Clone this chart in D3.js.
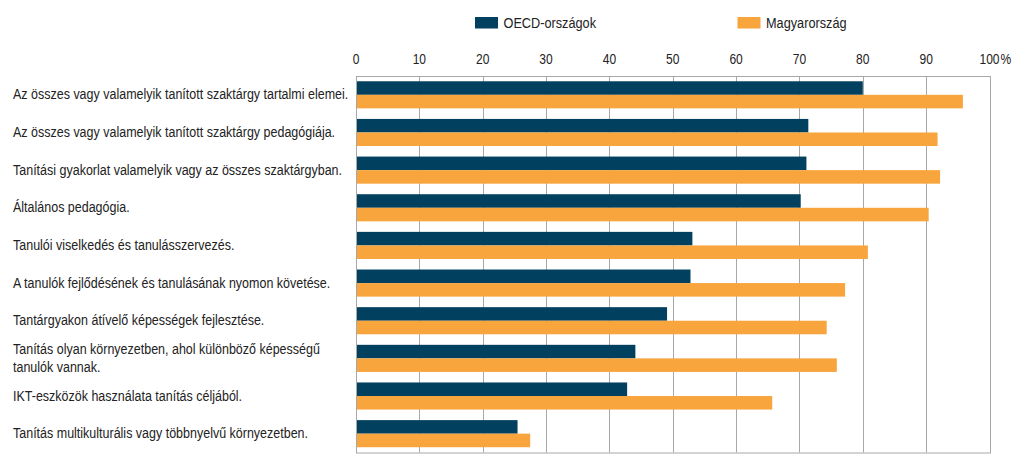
<!DOCTYPE html>
<html><head><meta charset="utf-8">
<script src="https://cdn.jsdelivr.net/npm/d3@7"></script>
<style>body{margin:0;background:#fff}svg{display:block}</style>
</head><body>
<svg id="chart" width="1024" height="461"></svg>
<script>
const categories = [
  ["Az összes vagy valamelyik tanított szaktárgy tartalmi elemei."],
  ["Az összes vagy valamelyik tanított szaktárgy pedagógiája."],
  ["Tanítási gyakorlat valamelyik vagy az összes szaktárgyban."],
  ["Általános pedagógia."],
  ["Tanulói viselkedés és tanulásszervezés."],
  ["A tanulók fejlődésének és tanulásának nyomon követése."],
  ["Tantárgyakon átívelő képességek fejlesztése."],
  ["Tanítás olyan környezetben, ahol különböző képességű", "tanulók vannak."],
  ["IKT-eszközök használata tanítás céljából."],
  ["Tanítás multikulturális vagy többnyelvű környezetben."]
];
const seriesNames = ["OECD-országok", "Magyarország"];
const oecdValues = [80.0, 71.4, 71.1, 70.2, 53.1, 52.8, 49.1, 44.1, 42.8, 25.5];
const huValues   = [95.8, 91.8, 92.2, 90.4, 80.8, 77.2, 74.3, 75.9, 65.7, 27.5];
const tickValues = [0, 10, 20, 30, 40, 50, 60, 70, 80, 90, 100];
const colors = ["#02405f", "#f8a53e"];

const svg = d3.select("#chart");
const pLeft = 356, pRight = 989.5, pTop = 76, pBottom = 452.5;
const font = "'Liberation Sans',Arial,sans-serif";

const x = d3.scaleLinear().domain([0, 100]).range([pLeft, pRight]);
const y = d3.scaleBand().domain(d3.range(categories.length)).range([pTop, pBottom])
  .paddingInner(0.28).paddingOuter(0.14);
const ys = d3.scaleBand().domain([0, 1]).range([0, y.bandwidth()]);

// narrow text helper (emulates a condensed face)
function ntext(sel, tx, ty, txt, size, sx, anchor) {
  return sel.append("text")
    .attr("transform", `translate(${tx},${ty}) scale(${sx},1)`)
    .attr("font-size", size)
    .attr("text-anchor", anchor || "start")
    .text(txt);
}

// grid lines
svg.append("g").selectAll("line").data(tickValues).join("line")
  .attr("x1", d => Math.round(x(d)) + 0.5).attr("x2", d => Math.round(x(d)) + 0.5)
  .attr("y1", pTop).attr("y2", pBottom)
  .attr("stroke", "#a8a8a8").attr("stroke-width", 1);
// frame
svg.append("rect").attr("x", Math.round(pLeft) + 0.5).attr("y", pTop + 0.5)
  .attr("width", Math.round(pRight) - Math.round(pLeft)).attr("height", pBottom - pTop)
  .attr("fill", "none").attr("stroke", "#a8a8a8");

// tick labels
const tl = svg.append("g").attr("font-family", font).attr("fill", "#222");
tickValues.forEach(d => ntext(tl, x(d), 63.5, d, 14, 0.86, "middle"));
ntext(tl, x(100) + 11, 63.5, "%", 14, 0.86, "start");

// bars
const rows = categories.map((c, i) => ({i, vals: [oecdValues[i], huValues[i]]}));
const g = svg.append("g");
rows.forEach(r => {
  r.vals.forEach((v, s) => {
    g.append("rect")
      .attr("x", x(0) + 1)
      .attr("y", y(r.i) + ys(s))
      .attr("width", x(v) - x(0) - 1)
      .attr("height", ys.bandwidth())
      .attr("fill", colors[s]);
  });
});

// category labels
const cl = svg.append("g").attr("font-family", font).attr("fill", "#222");
categories.forEach((lines, i) => {
  const cy = y(i) + y.bandwidth() / 2;
  const n = lines.length;
  const lh = 17.7;
  lines.forEach((t, k) => {
    ntext(cl, 13, cy - (n - 1) * lh / 2 + k * lh + 4.5, t, 15, 0.833, "start");
  });
});

// legend
const lg = svg.append("g").attr("font-family", font).attr("fill", "#222");
const legX = [475, 737.5];
seriesNames.forEach((n, s) => {
  lg.append("rect").attr("x", legX[s]).attr("y", 17).attr("width", 23).attr("height", 11.5).attr("fill", colors[s]);
  ntext(lg, legX[s] + 28.5, 27.8, n, 14.5, 0.878, "start");
});
</script>
</body></html>
